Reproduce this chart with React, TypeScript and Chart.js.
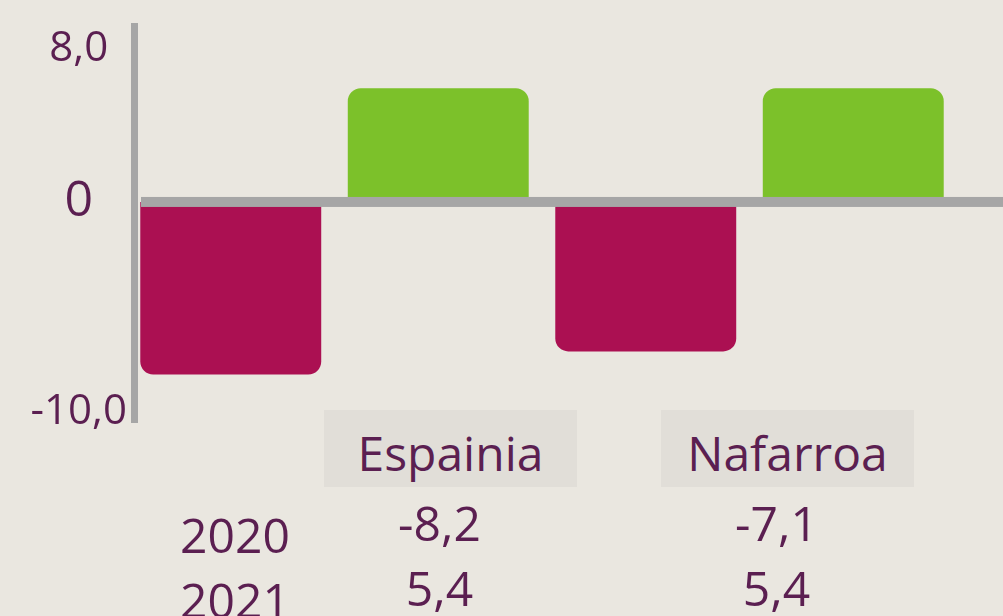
import React, { useEffect, useRef } from 'react';
import { Chart, registerables } from 'chart.js';

Chart.register(...registerables);

// ---- data ----
const categories = ['Espainia', 'Nafarroa'];
const years = ['2020', '2021'];
const values2020 = [-8.2, -7.1];
const values2021 = [5.4, 5.4];
const yTickValues = [-10, 0, 8];
const yMin = -10.5;
const yMax = 8.5;

// ---- styles ----
const BG = '#eae7e0';
const BOX_BG = '#e1ded8';
const TEXT = '#5b1f51';
const AXIS = '#a6a6a6';
const MAGENTA = '#ab1052';
const GREEN = '#7cc12a';
const FONT = "'Open Sans', 'Noto Sans', sans-serif";

const seriesByYear = [values2020, values2021];
const seriesColors = [MAGENTA, GREEN];

const fmt = (v: number) => (v === 0 ? '0' : v.toFixed(1).replace('.', ','));

const axisLinesPlugin = {
  id: 'axisLines',
  afterDatasetsDraw(chart: any) {
    const { ctx, chartArea } = chart;
    const y = chart.scales.y;
    const zero = y.getPixelForValue(0);
    ctx.save();
    ctx.fillStyle = AXIS;
    // vertical axis line
    ctx.fillRect(chartArea.left + 4, chartArea.top, 7, chartArea.bottom - chartArea.top);
    // zero line
    ctx.fillRect(chartArea.left + 14, zero - 5, chart.width - chartArea.left - 14, 10);
    ctx.restore();
  },
};

export default function App() {
  const canvasRef = useRef<HTMLCanvasElement | null>(null);

  useEffect(() => {
    document.body.style.margin = '0';
    document.body.style.background = BG;
    const canvas = canvasRef.current;
    if (!canvas) return;
    const chart = new Chart(canvas, {
      type: 'bar',
      data: {
        labels: categories,
        datasets: years.map((yr, i) => ({
          label: yr,
          data: seriesByYear[i],
          backgroundColor: seriesColors[i],
          borderWidth: 0,
          borderRadius: 13,
          borderSkipped: 'start',
          categoryPercentage: 1,
          barPercentage: 0.872,
        })),
      },
      options: {
        animation: false,
        responsive: false,
        maintainAspectRatio: false,
        events: [],
        layout: { padding: { top: 23, bottom: 193, left: 0, right: 46 }, autoPadding: false },
        plugins: { legend: { display: false }, tooltip: { enabled: false }, title: { display: false } },
        scales: {
          x: { display: false },
          y: {
            min: yMin,
            max: yMax,
            border: { display: false },
            grid: { display: false, drawTicks: false, tickLength: 0 },
            afterBuildTicks: (scale: any) => {
              scale.ticks = yTickValues.map((v) => ({ value: v }));
            },
            afterFit: (scale: any) => {
              scale.width = 127;
              scale.paddingTop = 0;
              scale.paddingBottom = 0;
            },
            ticks: {
              padding: 0,
              crossAlign: 'center',
              color: TEXT,
              font: (ctx: any) => {
                const v = ctx.tick ? ctx.tick.value : null;
                if (v === 0) return { family: FONT, size: 50 };
                if (v === 8) return { family: FONT, size: 42, lineHeight: '31px' };
                return { family: FONT, size: 42 };
              },
              callback: (value: any) => {
                const v = Number(value);
                return v === 8 ? ['', fmt(v)] : fmt(v);
              },
            },
          },
        },
      },
      plugins: [axisLinesPlugin],
    } as any);
    return () => chart.destroy();
  }, []);

  const boxLeft = [324, 661];
  const boxWidth = 253;

  return (
    <div
      style={{
        position: 'relative',
        width: 1003,
        height: 616,
        overflow: 'hidden',
        background: BG,
        fontFamily: FONT,
        color: TEXT,
      }}
    >
      <canvas ref={canvasRef} width={1003} height={616} style={{ position: 'absolute', left: 0, top: 0 }} />
      {categories.map((c, i) => (
        <div
          key={c}
          style={{
            position: 'absolute',
            left: boxLeft[i],
            top: 410,
            width: boxWidth,
            height: 77,
            background: BOX_BG,
            textAlign: 'center',
            fontSize: 48,
            lineHeight: '85px',
            whiteSpace: 'nowrap',
          }}
        >
          {c}
        </div>
      ))}
      {years.map((yr, r) => (
        <React.Fragment key={yr}>
          <div
            style={{
              position: 'absolute',
              left: 135,
              top: 502 + r * 65,
              width: 200,
              textAlign: 'center',
              fontSize: 48,
              lineHeight: '65px',
            }}
          >
            {yr}
          </div>
          {categories.map((c, i) => (
            <div
              key={c}
              style={{
                position: 'absolute',
                left: boxLeft[i] - 11,
                top: 490 + r * 65,
                width: boxWidth,
                textAlign: 'center',
                fontSize: 48,
                lineHeight: '65px',
              }}
            >
              {fmt(seriesByYear[r][i])}
            </div>
          ))}
        </React.Fragment>
      ))}
    </div>
  );
}
